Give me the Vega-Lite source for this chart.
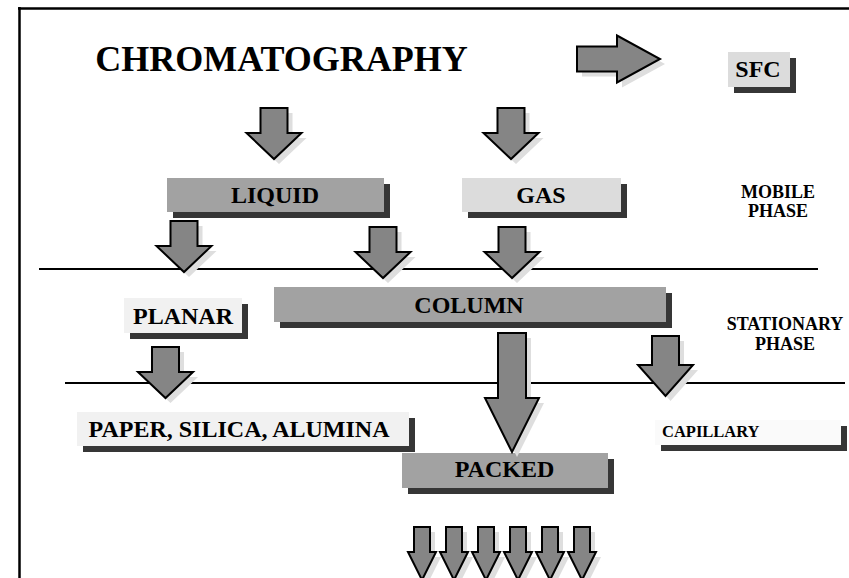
{
  "$schema": "https://vega.github.io/schema/vega-lite/v6.json",
  "width": 849,
  "height": 578,
  "autosize": {"type": "none"},
  "padding": 0,
  "background": "white",
  "config": {"view": {"stroke": null}},
  "datasets": {
    "frame": [
      {"x": 18, "x2": 849, "y": 8.5, "y2": 8.5},
      {"x": 19.5, "x2": 19.5, "y": 7, "y2": 580}
    ],
    "dividers": [
      {"x": 39, "x2": 818, "y": 269, "y2": 269},
      {"x": 65, "x2": 845, "y": 383, "y2": 383}
    ],
    "boxes": [
      {"name": "LIQUID", "x": 167, "x2": 384, "y": 178, "y2": 212, "tone": "dark"},
      {"name": "GAS", "x": 462, "x2": 621, "y": 178, "y2": 212, "tone": "light"},
      {"name": "SFC", "x": 728, "x2": 790, "y": 52, "y2": 87, "tone": "light"},
      {"name": "COLUMN", "x": 274, "x2": 666, "y": 287, "y2": 322, "tone": "dark"},
      {"name": "PLANAR", "x": 124, "x2": 242, "y": 298, "y2": 333, "tone": "pale"},
      {"name": "PAPER", "x": 77, "x2": 409, "y": 412, "y2": 446, "tone": "pale"},
      {"name": "CAPILLARY", "x": 655, "x2": 841, "y": 420, "y2": 445, "tone": "white"},
      {"name": "PACKED", "x": 402, "x2": 608, "y": 453, "y2": 488, "tone": "dark"}
    ],
    "arrows": [
      {"kind": "right", "x": 577, "y": 59},
      {"kind": "std", "x": 274, "y": 108},
      {"kind": "std", "x": 511, "y": 108},
      {"kind": "std", "x": 184, "y": 221},
      {"kind": "std", "x": 383, "y": 227},
      {"kind": "std", "x": 512, "y": 227},
      {"kind": "std", "x": 165.5, "y": 347},
      {"kind": "big", "x": 512, "y": 333},
      {"kind": "cap", "x": 665.5, "y": 336},
      {"kind": "small", "x": 422, "y": 527},
      {"kind": "small", "x": 454, "y": 527},
      {"kind": "small", "x": 486, "y": 527},
      {"kind": "small", "x": 518, "y": 527},
      {"kind": "small", "x": 550, "y": 527},
      {"kind": "small", "x": 582, "y": 527}
    ],
    "title": [
      {"text": "CHROMATOGRAPHY", "x": 281.5, "y": 71}
    ],
    "labels": [
      {"text": "LIQUID", "x": 275, "y": 203},
      {"text": "GAS", "x": 541, "y": 203},
      {"text": "SFC", "x": 758, "y": 77},
      {"text": "COLUMN", "x": 469, "y": 313},
      {"text": "PLANAR", "x": 183, "y": 324},
      {"text": "PAPER, SILICA, ALUMINA", "x": 239, "y": 437},
      {"text": "PACKED", "x": 504.5, "y": 477}
    ],
    "notes": [
      {"text": "MOBILE", "x": 778, "y": 198},
      {"text": "PHASE", "x": 778, "y": 217},
      {"text": "STATIONARY", "x": 785, "y": 330},
      {"text": "PHASE", "x": 785, "y": 350}
    ],
    "small": [
      {"text": "CAPILLARY", "x": 662, "y": 437}
    ]
  },
  "layer": [
    {
      "data": {"name": "frame"},
      "mark": {"type": "rule", "color": "black", "strokeWidth": 2.5},
      "encoding": {
        "x": {"field": "x", "type": "quantitative", "scale": {"domain": [0, 849], "nice": false, "zero": false}, "axis": null},
        "x2": {"field": "x2"},
        "y": {"field": "y", "type": "quantitative", "scale": {"domain": [0, 578], "nice": false, "zero": false, "reverse": true}, "axis": null},
        "y2": {"field": "y2"}
      }
    },
    {
      "data": {"name": "dividers"},
      "mark": {"type": "rule", "color": "black", "strokeWidth": 2},
      "encoding": {
        "x": {"field": "x", "type": "quantitative"},
        "x2": {"field": "x2"},
        "y": {"field": "y", "type": "quantitative"},
        "y2": {"field": "y2"}
      }
    },
    {
      "data": {"name": "boxes"},
      "mark": {"type": "rect", "color": "#363636", "xOffset": 6, "x2Offset": 6, "yOffset": 6, "y2Offset": 6},
      "encoding": {
        "x": {"field": "x", "type": "quantitative"},
        "x2": {"field": "x2"},
        "y": {"field": "y", "type": "quantitative"},
        "y2": {"field": "y2"}
      }
    },
    {
      "data": {"name": "boxes"},
      "mark": {"type": "rect"},
      "encoding": {
        "x": {"field": "x", "type": "quantitative"},
        "x2": {"field": "x2"},
        "y": {"field": "y", "type": "quantitative"},
        "y2": {"field": "y2"},
        "color": {"field": "tone", "type": "nominal", "legend": null,
          "scale": {"domain": ["dark", "light", "pale", "white"], "range": ["#a2a2a2", "#dcdcdc", "#f1f1f1", "#fafafa"]}}
      }
    },
    {
      "data": {"name": "arrows"},
      "mark": {"type": "point", "filled": true, "size": 4, "fill": "#dedede", "stroke": null, "opacity": 1, "xOffset": 5, "yOffset": 5},
      "encoding": {
        "x": {"field": "x", "type": "quantitative"},
        "y": {"field": "y", "type": "quantitative"},
        "shape": {"field": "kind", "type": "nominal", "legend": null,
          "scale": {"domain": ["std", "big", "cap", "right", "small"],
            "range": [
              "M-13.5,0L13.5,0L13.5,25L27.5,25L0,51L-27.5,25L-13.5,25Z",
              "M-14,0L14,0L14,65L27,65L0,119L-27,65L-14,65Z",
              "M-13.5,0L13.5,0L13.5,29L27.5,29L0,60L-27.5,29L-13.5,29Z",
              "M0,-12.5L40,-12.5L40,-23.5L83,0L40,23.5L40,12.5L0,12.5Z",
              "M-8,0L8,0L8,25L14,25L0,53L-14,25L-8,25Z"
            ]}}
      }
    },
    {
      "data": {"name": "arrows"},
      "mark": {"type": "point", "filled": true, "size": 4, "fill": "#858585", "stroke": "black", "strokeWidth": 2, "opacity": 1, "strokeJoin": "miter"},
      "encoding": {
        "x": {"field": "x", "type": "quantitative"},
        "y": {"field": "y", "type": "quantitative"},
        "shape": {"field": "kind", "type": "nominal", "legend": null}
      }
    },
    {
      "data": {"name": "title"},
      "mark": {"type": "text", "font": "Liberation Serif", "fontWeight": "bold", "fontSize": 36, "align": "center", "baseline": "alphabetic", "color": "black"},
      "encoding": {
        "x": {"field": "x", "type": "quantitative"},
        "y": {"field": "y", "type": "quantitative"},
        "text": {"field": "text"}
      }
    },
    {
      "data": {"name": "labels"},
      "mark": {"type": "text", "font": "Liberation Serif", "fontWeight": "bold", "fontSize": 24, "align": "center", "baseline": "alphabetic", "color": "black"},
      "encoding": {
        "x": {"field": "x", "type": "quantitative"},
        "y": {"field": "y", "type": "quantitative"},
        "text": {"field": "text"}
      }
    },
    {
      "data": {"name": "notes"},
      "mark": {"type": "text", "font": "Liberation Serif", "fontWeight": "bold", "fontSize": 18, "align": "center", "baseline": "alphabetic", "color": "black"},
      "encoding": {
        "x": {"field": "x", "type": "quantitative"},
        "y": {"field": "y", "type": "quantitative"},
        "text": {"field": "text"}
      }
    },
    {
      "data": {"name": "small"},
      "mark": {"type": "text", "font": "Liberation Serif", "fontWeight": "bold", "fontSize": 16.5, "align": "left", "baseline": "alphabetic", "color": "black"},
      "encoding": {
        "x": {"field": "x", "type": "quantitative"},
        "y": {"field": "y", "type": "quantitative"},
        "text": {"field": "text"}
      }
    }
  ]
}
